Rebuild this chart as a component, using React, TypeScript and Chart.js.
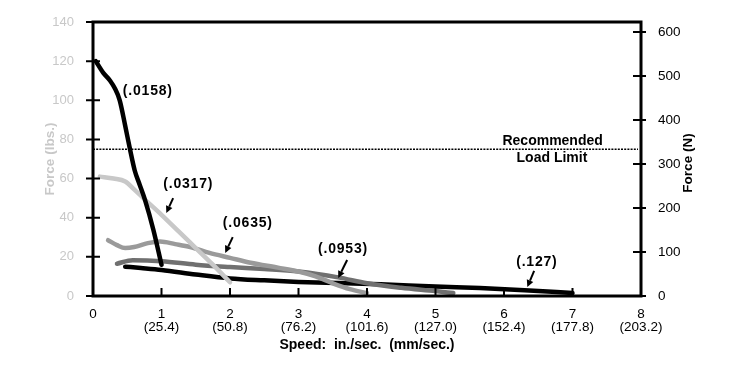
import React, { useEffect, useRef } from "react";
import { Chart, registerables } from "chart.js";

Chart.register(...registerables);

// ---- Data (speed in in./sec, force in lbs) ----
const speed0158 = [0.04, 0.15, 0.25, 0.32, 0.39, 0.47, 0.54, 0.61, 0.68, 0.76, 0.88, 1.0];
const force0158 = [120, 114, 110, 106, 100, 87, 75, 64, 57, 49, 34, 16];

const speed0317 = [0.1, 0.3, 0.47, 0.6, 0.75, 1.0, 1.25, 1.5, 1.75, 2.0];
const force0317 = [61, 60, 58.5, 54.5, 49.5, 41.5, 33, 24.5, 16, 7];

const speed0635 = [0.22, 0.35, 0.47, 0.6, 0.8, 0.98, 1.2, 1.42, 1.7, 2.0, 2.3, 2.7, 3.0, 3.25, 3.5, 3.75, 4.0];
const force0635 = [28.5, 26, 24.5, 25, 27, 27.8, 26.5, 25, 22, 19.5, 17, 14.5, 12.5, 10, 6.5, 3.5, 1.5];

const speed0953 = [0.35, 0.58, 1.0, 1.5, 2.0, 2.5, 3.0, 3.58, 4.0, 4.5, 5.0, 5.26];
const force0953 = [16.5, 18.3, 17.8, 16, 14.8, 13.8, 12.5, 9.5, 6.5, 4.2, 2.5, 1.5];

const speed127 = [0.47, 0.7, 1.0, 1.5, 2.0, 2.5, 3.0, 3.6, 4.2, 5.0, 5.65, 6.3, 7.0];
const force127 = [15, 14.3, 13.3, 11, 9, 8, 7.2, 6.6, 6.0, 4.8, 4.1, 3.0, 1.5];

const xTickInches = ["0", "1", "2", "3", "4", "5", "6", "7", "8"];
const xTickMm = ["", "(25.4)", "(50.8)", "(76.2)", "(101.6)", "(127.0)", "(152.4)", "(177.8)", "(203.2)"];
const newtonTicks = [0, 100, 200, 300, 400, 500, 600];

const loadLimitLbs = 75;
const lbsToN = 4.448222;

// curve labels: text, label position (x, y), arrow from (x, y) to (x, y)
const labelTexts = ["(.0158)", "(.0317)", "(.0635)", "(.0953)", "(.127)"];
const labelX = [0.8, 1.39, 2.26, 3.65, 6.48];
const labelY = [104.7, 57.2, 37.3, 24, 17.4];
const arrowFromX = [null, 1.17, 2.04, 3.71, 6.44];
const arrowFromY = [null, 50, 30.1, 18.4, 12.8];
const arrowToX = [null, 1.07, 1.93, 3.58, 6.34];
const arrowToY = [null, 42.4, 22, 9.2, 4.6];

const FONT = "'Liberation Sans', Arial, Helvetica, sans-serif";

const pts = (xs: number[], ys: number[]) => xs.map((x, i) => ({ x, y: ys[i] }));

const overlay = {
  id: "overlay",
  afterDraw(chart: any) {
    const { ctx, chartArea: a, scales } = chart;
    const x = scales.x, y = scales.y, y2 = scales.y2;
    ctx.save();
    // frame
    ctx.strokeStyle = "#000";
    ctx.lineWidth = 3;
    ctx.strokeRect(a.left, a.top, a.right - a.left, a.bottom - a.top);
    // ticks
    ctx.lineWidth = 2;
    ctx.beginPath();
    y.ticks.forEach((t: any) => {
      const py = y.getPixelForValue(t.value);
      ctx.moveTo(a.left - 7, py);
      ctx.lineTo(a.left + 7, py);
    });
    y2.ticks.forEach((t: any) => {
      const py = y2.getPixelForValue(t.value);
      ctx.moveTo(a.right - 8, py);
      ctx.lineTo(a.right + 5, py);
    });
    x.ticks.forEach((t: any) => {
      const px = x.getPixelForValue(t.value);
      ctx.moveTo(px, a.bottom - 8);
      ctx.lineTo(px, a.bottom);
    });
    ctx.stroke();
    // recommended load limit
    const ly = y.getPixelForValue(loadLimitLbs);
    ctx.setLineDash([2, 1.2]);
    ctx.lineWidth = 1.6;
    ctx.beginPath();
    ctx.moveTo(a.left, ly);
    ctx.lineTo(a.right - 3, ly);
    ctx.stroke();
    ctx.setLineDash([]);
    ctx.fillStyle = "#000";
    ctx.font = `bold 14px ${FONT}`;
    ctx.textAlign = "center";
    ctx.textBaseline = "middle";
    ctx.fillText("Recommended", x.getPixelForValue(6.71), y.getPixelForValue(79.2));
    ctx.fillText("Load Limit", x.getPixelForValue(6.7), y.getPixelForValue(70.5));
    // curve labels
    (ctx as any).letterSpacing = "0.8px";
    labelTexts.forEach((txt, i) => {
      ctx.fillText(txt, x.getPixelForValue(labelX[i]), y.getPixelForValue(labelY[i]));
    });
    (ctx as any).letterSpacing = "0px";
    // arrows
    labelTexts.forEach((_, i) => {
      if (arrowFromX[i] == null) return;
      const x0 = x.getPixelForValue(arrowFromX[i] as number);
      const y0 = y.getPixelForValue(arrowFromY[i] as number);
      const x1 = x.getPixelForValue(arrowToX[i] as number);
      const y1 = y.getPixelForValue(arrowToY[i] as number);
      const ang = Math.atan2(y1 - y0, x1 - x0);
      const hl = 7, hw = 3.5;
      const bx = x1 - hl * Math.cos(ang), by = y1 - hl * Math.sin(ang);
      ctx.lineWidth = 2;
      ctx.beginPath();
      ctx.moveTo(x0, y0);
      ctx.lineTo(bx, by);
      ctx.stroke();
      ctx.beginPath();
      ctx.moveTo(x1, y1);
      ctx.lineTo(bx + hw * Math.sin(ang), by - hw * Math.cos(ang));
      ctx.lineTo(bx - hw * Math.sin(ang), by + hw * Math.cos(ang));
      ctx.closePath();
      ctx.fill();
    });
    // axis titles
    ctx.font = `bold 14px ${FONT}`;
    ctx.fillText("Speed:  in./sec.  (mm/sec.)", (a.left + a.right) / 2, 345);
    const cy = (a.top + a.bottom) / 2;
    ctx.save();
    ctx.translate(50, cy);
    ctx.rotate(-Math.PI / 2);
    ctx.fillStyle = "#c8c8c8";
    ctx.font = `bold 13.5px ${FONT}`;
    ctx.fillText("Force (lbs.)", 0, 0);
    ctx.restore();
    ctx.save();
    ctx.translate(688, cy + 4);
    ctx.rotate(-Math.PI / 2);
    ctx.fillStyle = "#000";
    ctx.font = `bold 13.5px ${FONT}`;
    ctx.fillText("Force (N)", 0, 0);
    ctx.restore();
    ctx.restore();
  },
};

export default function App() {
  const ref = useRef<HTMLCanvasElement | null>(null);
  useEffect(() => {
    document.body.style.margin = "0";
    const lineDs = (label: string, xs: number[], ys: number[], color: string) => ({
      label,
      data: pts(xs, ys),
      borderColor: color,
      backgroundColor: color,
      borderWidth: 4.5,
      pointRadius: 0,
      fill: false,
      cubicInterpolationMode: "monotone" as const,
      borderCapStyle: "round" as const,
      borderJoinStyle: "round" as const,
      yAxisID: "y",
    });
    const chart = new Chart(ref.current as HTMLCanvasElement, {
      type: "line",
      data: {
        datasets: [
          lineDs("(.0158)", speed0158, force0158, "#000000"),
          lineDs("(.0317)", speed0317, force0317, "#c8c8c8"),
          lineDs("(.0635)", speed0635, force0635, "#9a9a9a"),
          lineDs("(.0953)", speed0953, force0953, "#707070"),
          lineDs("(.127)", speed127, force127, "#000000"),
        ],
      },
      options: {
        animation: false,
        responsive: true,
        maintainAspectRatio: false,
        layout: { padding: { top: 22, left: 0, right: 0, bottom: 0 } },
        plugins: { legend: { display: false }, tooltip: { enabled: false } },
        scales: {
          x: {
            type: "linear",
            min: 0,
            max: 8,
            grid: { display: false },
            border: { display: false },
            afterFit: (s: any) => { s.height = 69; },
            ticks: {
              stepSize: 1,
              padding: 4,
              maxRotation: 0,
              autoSkip: false,
              color: "#000",
              font: { family: FONT, size: 13.5, lineHeight: 0.97 },
              callback: (v: any) => {
                const i = Math.round(Number(v));
                return xTickMm[i] ? [xTickInches[i], xTickMm[i]] : xTickInches[i];
              },
            },
          },
          y: {
            position: "left",
            min: 0,
            max: 140,
            grid: { display: false },
            border: { display: false },
            afterFit: (s: any) => { s.width = 93; },
            ticks: {
              stepSize: 20,
              padding: 11,
              color: "#c8c8c8",
              font: { family: FONT, size: 13 },
            },
          },
          y2: {
            position: "right",
            min: 0,
            max: 140 * lbsToN,
            grid: { display: false },
            border: { display: false },
            afterFit: (s: any) => { s.width = 109; },
            afterBuildTicks: (s: any) => {
              s.ticks = newtonTicks.map((v) => ({ value: v }));
            },
            ticks: {
              padding: 9,
              color: "#000",
              font: { family: FONT, size: 13.5 },
            },
          },
        },
      },
      plugins: [overlay],
    });
    return () => chart.destroy();
  }, []);
  return (
    <div style={{ width: 750, height: 365, position: "relative" }}>
      <canvas ref={ref} />
    </div>
  );
}
